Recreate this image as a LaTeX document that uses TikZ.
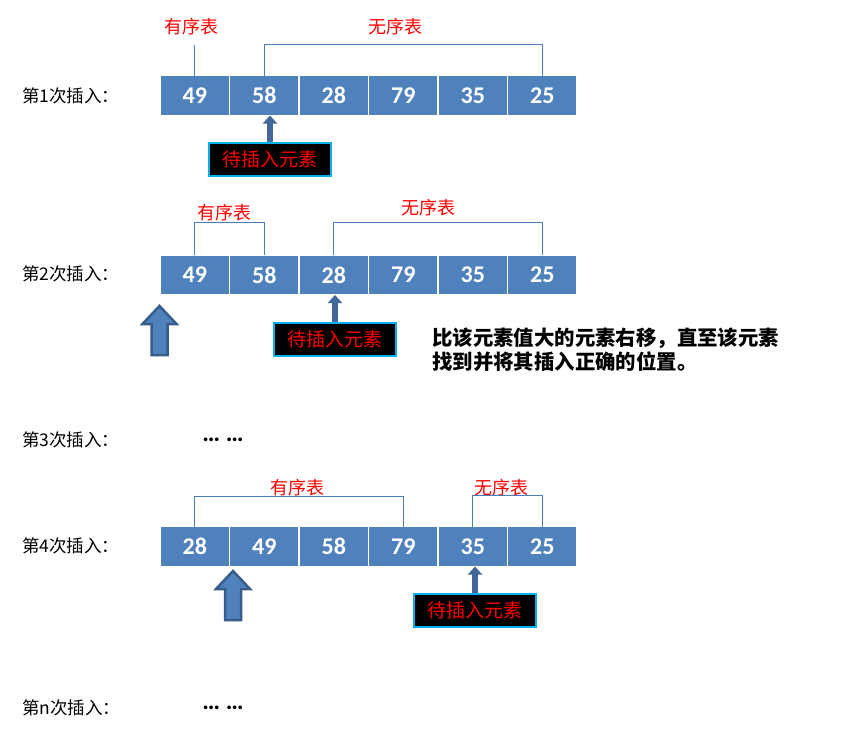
\documentclass[tikz,border=0pt]{standalone}
\usepackage{fontspec}
\setmainfont{Noto Sans CJK SC}
\newfontfamily\numfont{Carlito}
\usetikzlibrary{positioning,arrows.meta}

\definecolor{cellblue}{HTML}{4F81BD}
\definecolor{linkblue}{HTML}{4A7EBB}
\definecolor{tipblue}{HTML}{41679B}
\definecolor{edgeblue}{HTML}{385D8A}
\definecolor{boxcyan}{HTML}{00B0F0}

\tikzset{
  cell/.style={fill=cellblue, draw=white, line width=1.5pt, outer sep=0pt, inner sep=0pt,
    minimum width=69.5pt, minimum height=40pt, text=white,
    font=\numfont\bfseries\fontsize{24}{28}\selectfont},
  rowlabel/.style={anchor=west, inner sep=0pt, font=\fontsize{17.5}{20}\selectfont},
  listlabel/.style={text=red, inner sep=0pt, font=\fontsize{18}{20}\selectfont},
  bracket/.style={draw=linkblue, line width=1pt},
  insbox/.style={fill=black, draw=boxcyan, line width=1.2pt, text=red, inner sep=0pt,
    minimum width=122pt, minimum height=33pt, font=\fontsize{19}{22}\selectfont},
  uparrow/.style={draw=tipblue, line width=6pt, -{Triangle[width=14pt,length=8pt]}},
  bigarrow/.style={fill=cellblue, draw=edgeblue, line width=2.5pt, line join=miter},
}

\begin{document}
\begin{tikzpicture}[x=1pt, y=-1pt]
          \fill[white] (0,0) rectangle (842,737);
          \useasboundingbox (0,0) rectangle (842,737);

          % first pass
          \node[rowlabel] (l1) at (22,95.5) {第1次插入：};
          \node[cell] (r1c1) at (194.75,95.5) {49};
          \node[cell, right = 0pt of r1c1] (r1c2) {58};
          \node[cell, right = 0pt of r1c2] (r1c3) {28};
          \node[cell, right = 0pt of r1c3] (r1c4) {79};
          \node[cell, right = 0pt of r1c4] (r1c5) {35};
          \node[cell, right = 0pt of r1c5] (r1c6) {25};
          \node[listlabel] (s1) at (191,27) {有序表};
          \node[listlabel] (u1) at (395,27) {无序表};
          \node[insbox] (b1) at (270,159.5) {待插入元素};

          \draw [bracket] (r1c1.north) -- ++(0,-31);
          \draw [bracket] (r1c2.north) -- ++(0,-31) -| (r1c6.north);
          \draw [uparrow] (b1.north) -- (b1.north |- r1c2.south);

          % second pass
          \node[rowlabel] (l2) at (22,274) {第2次插入：};
          \node[cell] (r2c1) at (194.75,275) {49};
          \node[cell, right = 0pt of r2c1] (r2c2) {58};
          \node[cell, right = 0pt of r2c2] (r2c3) {28};
          \node[cell, right = 0pt of r2c3] (r2c4) {79};
          \node[cell, right = 0pt of r2c4] (r2c5) {35};
          \node[cell, right = 0pt of r2c5] (r2c6) {25};
          \node[listlabel] (s2) at (224,213) {有序表};
          \node[listlabel] (u2) at (428,208) {无序表};
          \node[insbox] (b2) at (335,339.5) {待插入元素};
          \node[anchor=west, align=left, inner sep=0pt,
                font=\fontsize{20.4}{24}\selectfont\bfseries] (note) at (432,350)
                {比该元素值大的元素右移，直至该元素\\找到并将其插入正确的位置。};

          \draw [bracket] (r2c1.north) -- ++(0,-33) -| (r2c2.north);
          \draw [bracket] (r2c3.north) -- ++(0,-33) -| (r2c6.north);
          \draw [uparrow] (b2.north) -- (b2.north |- r2c3.south);
          \coordinate (t2) at (159.5,306);
          \draw [bigarrow] (t2) -- ++(17,18) -- ++(-9,0) -- ++(0,31) -- ++(-16,0)
                -- ++(0,-31) -- ++(-9,0) -- cycle;

          % third pass
          \node[rowlabel] (l3) at (22,440) {第3次插入：};
          \node[font=\numfont\bfseries\fontsize{25}{28}\selectfont] (d3) at (223,440) {… …};

          % fourth pass
          \node[rowlabel] (l4) at (22,546) {第4次插入：};
          \node[cell] (r4c1) at (194.75,546.5) {28};
          \node[cell, right = 0pt of r4c1] (r4c2) {49};
          \node[cell, right = 0pt of r4c2] (r4c3) {58};
          \node[cell, right = 0pt of r4c3] (r4c4) {79};
          \node[cell, right = 0pt of r4c4] (r4c5) {35};
          \node[cell, right = 0pt of r4c5] (r4c6) {25};
          \node[listlabel] (s4) at (297,488) {有序表};
          \node[listlabel] (u4) at (501,488) {无序表};
          \node[insbox] (b4) at (475,610.5) {待插入元素};

          \draw [bracket] (r4c1.north) -- ++(0,-30) -| (r4c4.north);
          \draw [bracket] (r4c5.north) -- ++(0,-31) -| (r4c6.north);
          \draw [uparrow] (b4.north) -- (b4.north |- r4c5.south);
          \coordinate (t4) at (233,571);
          \draw [bigarrow] (t4) -- ++(17,18) -- ++(-9,0) -- ++(0,31) -- ++(-16,0)
                -- ++(0,-31) -- ++(-9,0) -- cycle;

          % last pass
          \node[rowlabel] (ln) at (22,708) {第n次插入：};
          \node[font=\numfont\bfseries\fontsize{25}{28}\selectfont] (dn) at (223,708) {… …};
        \end{tikzpicture}
\end{document}
